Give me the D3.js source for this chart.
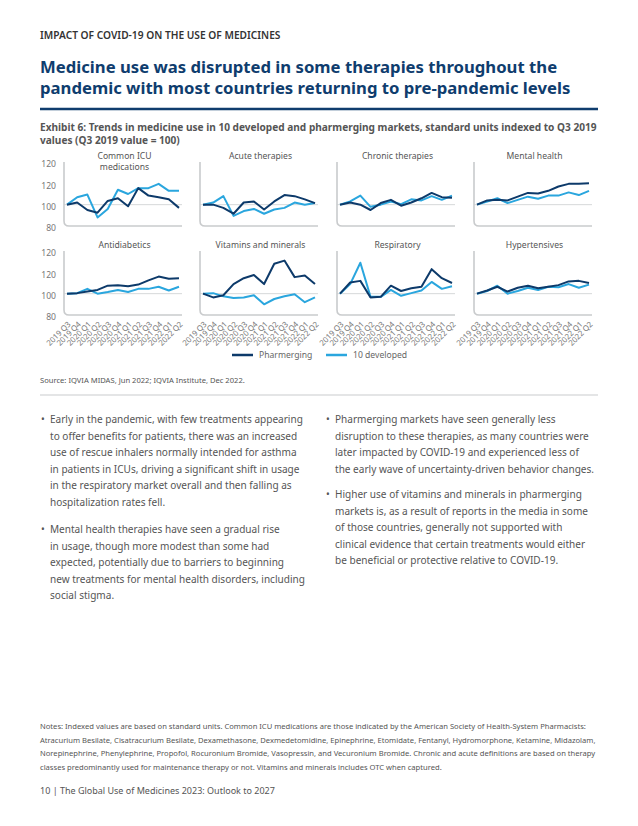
<!DOCTYPE html>
<html>
<head>
<meta charset="utf-8">
<script src="https://cdn.jsdelivr.net/npm/d3@7"></script>
<style>
  body { margin: 0; background: #fff; }
  svg { display: block; font-family: 'Noto Sans', sans-serif; }
</style>
</head>
<body>
<svg id="page" width="638" height="826"></svg>
<script>
const quarters = ["2019 Q3","2019 Q4","2020 Q1","2020 Q2","2020 Q3","2020 Q4",
                  "2021 Q1","2021 Q2","2021 Q3","2021 Q4","2022 Q1","2022 Q2"];
const yTicks = [80, 100, 120, 140];
const yTickLabels = ["80", "100", "120", "120"]; // as printed in the source
const panelTitles = [["Common ICU", "medications"], ["Acute therapies"], ["Chronic therapies"], ["Mental health"],
                     ["Antidiabetics"], ["Vitamins and minerals"], ["Respiratory"], ["Hypertensives"]];
const seriesNames = ["Pharmerging", "10 developed"];

const icuPharm      = [100, 102, 95, 92.5, 103.5, 106, 98.5, 115.5, 108.5, 107, 105, 97];
const icuDev        = [100, 107, 109.5, 88, 96, 114, 110, 115.5, 115.5, 119.5, 113, 113];
const acutePharm    = [100, 100, 97, 91.5, 102, 103, 95.5, 103, 109, 108, 105, 101.5];
const acuteDev      = [100, 102, 108, 89.5, 94, 96, 91.5, 95.5, 97, 102, 100, 101.5];
const chronicPharm  = [100, 102, 100, 95, 101.5, 104.5, 99, 102, 106, 111, 107, 106.5];
const chronicDev    = [100, 103, 108.5, 98, 100, 103, 100.5, 105, 104, 108, 104.5, 108.5];
const mentalPharm   = [100, 104, 104.5, 104, 107.5, 111, 110.5, 113, 117, 119.5, 119.5, 120];
const mentalDev     = [100, 103, 106, 101.5, 104.5, 107.5, 105.5, 108.5, 108.5, 111.5, 109, 113];
const diabPharm     = [100, 100.5, 102, 103.5, 107.5, 108, 107, 108.5, 112.5, 116, 114, 114.5];
const diabDev       = [100, 100.5, 104.5, 100, 101.5, 103.5, 101.5, 104.5, 104.5, 106.5, 103, 106.5];
const vitPharm      = [100, 96.5, 98.5, 109, 114.5, 117.5, 109, 128, 131, 115.5, 117, 109];
const vitDev        = [100, 100.5, 97.5, 96, 96.5, 98.5, 90, 95, 97.5, 99.5, 92, 96.5];
const respPharm     = [100, 110.5, 112, 96.5, 97, 107.5, 102.5, 105, 106.5, 123, 114.5, 110];
const respDev       = [100, 109, 129, 97, 97, 103.5, 98, 100.5, 103, 111, 104.5, 107];
const hyperPharm    = [100, 103, 106.5, 102, 105.5, 107.5, 105, 106.5, 108, 111.5, 112, 110];
const hyperDev      = [100, 102.5, 107.5, 100, 102.5, 105.5, 103.5, 106.5, 106, 109, 105.5, 108.5];

const pharmSeries = [icuPharm, acutePharm, chronicPharm, mentalPharm, diabPharm, vitPharm, respPharm, hyperPharm];
const devSeries   = [icuDev, acuteDev, chronicDev, mentalDev, diabDev, vitDev, respDev, hyperDev];

const navy = "#0d3a6a", sky = "#2aa6de", grey = "#555", axisGrey = "#c9cbcd";

const svg = d3.select("#page");

// ---- page header ----
svg.append("text").attr("x", 40).attr("y", 39)
  .attr("font-size", 10.2).attr("font-weight", 600).attr("fill", "#333")
  .text("IMPACT OF COVID-19 ON THE USE OF MEDICINES");

const title = ["Medicine use was disrupted in some therapies throughout the",
               "pandemic with most countries returning to pre-pandemic levels"];
svg.append("g").selectAll("text").data(title).join("text")
  .attr("x", 40).attr("y", (d, i) => 73 + i * 21)
  .attr("font-size", 16.7).attr("font-weight", 700).attr("fill", "#0f3d6e")
  .text(d => d);

svg.append("line").attr("x1", 40).attr("x2", 598).attr("y1", 109).attr("y2", 109)
  .attr("stroke", "#0f3d6e").attr("stroke-width", 2.5);

const exhibit = ["Exhibit 6: Trends in medicine use in 10 developed and pharmerging markets, standard units indexed to Q3 2019",
                 "values (Q3 2019 value = 100)"];
svg.append("g").selectAll("text").data(exhibit).join("text")
  .attr("x", 40).attr("y", (d, i) => 131 + i * 13)
  .attr("font-size", 10.1).attr("font-weight", 700).attr("fill", grey)
  .text(d => d);

// ---- small multiples ----
const colX = [64, 200, 337, 474];
const rowBase = [226, 315];
const plotW = 115, plotH = 64;

pharmSeries.forEach((pharm, idx) => {
  const col = idx % 4, row = Math.floor(idx / 4);
  const x0 = colX[col], yb = rowBase[row];
  const x = d3.scalePoint().domain(quarters).range([x0 + 3, x0 + plotW]);
  const y = d3.scaleLinear().domain([80, 140]).range([yb, yb - plotH]);
  const g = svg.append("g");

  // title (multi-line titles run down into the plot)
  g.selectAll(".ttl").data(panelTitles[idx]).join("text")
    .attr("x", x0 + 3 + plotW / 2).attr("y", (d, i) => y(140) - 3 + i * 11)
    .attr("text-anchor", "middle").attr("font-size", 8.6).attr("fill", grey)
    .text(d => d);

  // reference line at 100
  g.append("line").attr("x1", x0).attr("x2", x0 + plotW + 3)
    .attr("y1", y(100)).attr("y2", y(100)).attr("stroke", "#d6d8da").attr("stroke-width", 1);

  // L-shaped axis with rounded corner
  const r = 5;
  g.append("path")
    .attr("d", `M${x0},${y(140)}V${yb - r}Q${x0},${yb} ${x0 + r},${yb}H${x0 + plotW + 3}`)
    .attr("fill", "none").attr("stroke", axisGrey).attr("stroke-width", 1.6);

  if (col === 0) {
    const ya = g.append("g").attr("transform", `translate(${x0 - 5},2)`)
      .call(d3.axisLeft(y).tickValues(yTicks).tickFormat((d, i) => yTickLabels[i]).tickSize(0));
    ya.select(".domain").remove();
    ya.selectAll("text").attr("font-family", "'Noto Sans', sans-serif")
      .attr("font-size", 8.6).attr("fill", "#777");
  }
  if (row === 1) {
    const xa = g.append("g").attr("transform", `translate(0,${yb + 6})`)
      .call(d3.axisBottom(x).tickSize(0));
    xa.select(".domain").remove();
    xa.selectAll("text").attr("font-family", "'Noto Sans', sans-serif")
      .attr("font-size", 7.8).attr("fill", "#777")
      .attr("text-anchor", "end").attr("dy", "0.3em")
      .attr("transform", "rotate(-45)");
  }

  const line = d3.line().x((d, i) => x(quarters[i])).y(d => y(d));
  g.append("path").datum(devSeries[idx]).attr("d", line)
    .attr("fill", "none").attr("stroke", sky).attr("stroke-width", 2).attr("stroke-linejoin", "round");
  g.append("path").datum(pharm).attr("d", line)
    .attr("fill", "none").attr("stroke", navy).attr("stroke-width", 2).attr("stroke-linejoin", "round");
});

// ---- legend ----
const legendX = [232, 326];
const lg = svg.append("g").selectAll("g").data(seriesNames).join("g")
  .attr("transform", (d, i) => `translate(${legendX[i]},355)`);
lg.append("line").attr("x1", 0).attr("x2", 21).attr("stroke", (d, i) => i ? sky : navy).attr("stroke-width", 2.5);
lg.append("text").attr("x", 27).attr("dy", "0.35em").attr("font-size", 8.6).attr("fill", "#666").text(d => d);

svg.append("text").attr("x", 40).attr("y", 383).attr("font-size", 7.6).attr("fill", grey)
  .text("Source: IQVIA MIDAS, Jun 2022; IQVIA Institute, Dec 2022.");

svg.append("line").attr("x1", 40).attr("x2", 598).attr("y1", 395).attr("y2", 395)
  .attr("stroke", "#c9cbcd").attr("stroke-width", 1);

// ---- bullet text ----
const bullets = [
  { x: 40, y: 423, lines: ["Early in the pandemic, with few treatments appearing",
      "to offer benefits for patients, there was an increased",
      "use of rescue inhalers normally intended for asthma",
      "in patients in ICUs, driving a significant shift in usage",
      "in the respiratory market overall and then falling as",
      "hospitalization rates fell."] },
  { x: 40, y: 533, lines: ["Mental health therapies have seen a gradual rise",
      "in usage, though more modest than some had",
      "expected, potentially due to barriers to beginning",
      "new treatments for mental health disorders, including",
      "social stigma."] },
  { x: 325, y: 423, lines: ["Pharmerging markets have seen generally less",
      "disruption to these therapies, as many countries were",
      "later impacted by COVID-19 and experienced less of",
      "the early wave of uncertainty-driven behavior changes."] },
  { x: 325, y: 498, lines: ["Higher use of vitamins and minerals in pharmerging",
      "markets is, as a result of reports in the media in some",
      "of those countries, generally not supported with",
      "clinical evidence that certain treatments would either",
      "be beneficial or protective relative to COVID-19."] }
];
const bg = svg.append("g").selectAll("g").data(bullets).join("g");
bg.append("text").attr("x", d => d.x + 1).attr("y", d => d.y)
  .attr("font-size", 10).attr("fill", grey).text("•");
bg.each(function (d) {
  d3.select(this).selectAll(".ln").data(d.lines).join("text")
    .attr("x", d.x + 10).attr("y", (t, i) => d.y + i * 16.6)
    .attr("font-size", 10.05).attr("fill", grey).text(t => t);
});

// ---- notes + footer ----
const notes = [
  "Notes: Indexed values are based on standard units. Common ICU medications are those indicated by the American Society of Health-System Pharmacists:",
  "Atracurium Besilate, Cisatracurium Besilate, Dexamethasone, Dexmedetomidine, Epinephrine, Etomidate, Fentanyl, Hydromorphone, Ketamine, Midazolam,",
  "Norepinephrine, Phenylephrine, Propofol, Rocuronium Bromide, Vasopressin, and Vecuronium Bromide. Chronic and acute definitions are based on therapy",
  "classes predominantly used for maintenance therapy or not. Vitamins and minerals includes OTC when captured."
];
svg.append("g").selectAll("text").data(notes).join("text")
  .attr("x", 40).attr("y", (d, i) => 729 + i * 13.6)
  .attr("font-size", 7.6).attr("fill", grey).text(d => d);

svg.append("text").attr("x", 40).attr("y", 794).attr("font-size", 9).attr("fill", grey)
  .text("10  |  The Global Use of Medicines 2023: Outlook to 2027");
</script>
</body>
</html>
